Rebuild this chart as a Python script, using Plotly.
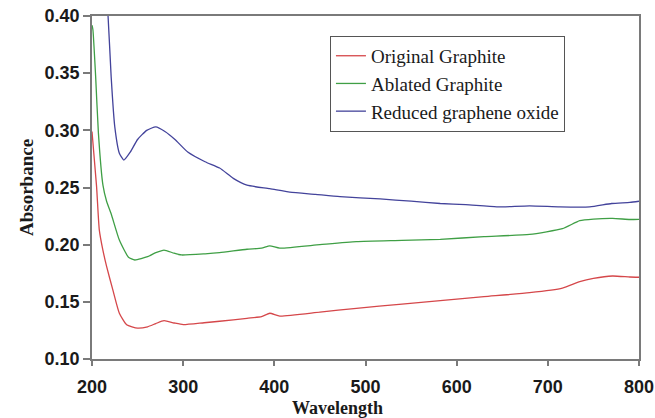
import plotly.graph_objects as go

# Wavelength (nm) and absorbance values
wl_red = [200, 205, 208, 212, 216, 223, 230, 238, 250, 261, 270, 279, 290, 300, 323, 340, 370, 386, 395, 406, 450, 490, 540, 582, 630, 680, 716, 735, 750, 771, 790, 800]
ab_red = [0.299, 0.251, 0.213, 0.195, 0.181, 0.160, 0.140, 0.130, 0.127, 0.1282, 0.131, 0.1335, 0.1315, 0.130, 0.1317, 0.133, 0.1356, 0.137, 0.140, 0.1375, 0.141, 0.1443, 0.148, 0.151, 0.1545, 0.158, 0.162, 0.1676, 0.1705, 0.1726, 0.1717, 0.1715]

wl_green = [200, 201, 204, 207, 212, 216, 221, 230, 240, 247, 261, 270, 279, 290, 298, 324, 340, 370, 386, 395, 406, 450, 490, 540, 582, 630, 680, 716, 735, 750, 771, 790, 800]
ab_green = [0.392, 0.388, 0.347, 0.298, 0.252, 0.238, 0.227, 0.204, 0.189, 0.1866, 0.1895, 0.193, 0.1953, 0.1925, 0.191, 0.192, 0.193, 0.196, 0.197, 0.199, 0.197, 0.200, 0.2026, 0.2037, 0.2047, 0.207, 0.209, 0.214, 0.221, 0.2224, 0.223, 0.222, 0.2222]

wl_blue = [200, 210, 217.6, 221, 225, 230, 235, 242, 250, 260, 270, 280, 291, 305, 324, 340, 355, 370, 395, 417, 445, 472, 516, 550, 582, 610, 644, 680, 713, 746, 770, 790, 800]
ab_blue = [0.60, 0.48, 0.40, 0.347, 0.303, 0.280, 0.274, 0.281, 0.292, 0.300, 0.303, 0.299, 0.292, 0.281, 0.2725, 0.267, 0.258, 0.252, 0.249, 0.246, 0.244, 0.242, 0.240, 0.238, 0.236, 0.235, 0.233, 0.234, 0.233, 0.233, 0.236, 0.237, 0.238]

names = ["Original Graphite", "Ablated Graphite", "Reduced graphene oxide"]
colors = ["#d5474a", "#3f9f45", "#43439b"]

fig = go.Figure()
for wl, ab, name, col in zip([wl_red, wl_green, wl_blue], [ab_red, ab_green, ab_blue], names, colors):
    fig.add_trace(go.Scatter(x=wl, y=ab, mode="lines", name=name,
                             line=dict(color=col, width=1.3, shape="spline", smoothing=0.5)))

axis_common = dict(showline=True, linecolor="#7a7a7a", linewidth=1.5, mirror=True,
                   ticks="outside", tickcolor="#7a7a7a", tickwidth=1.5,
                   showgrid=False, zeroline=False, automargin=False,
                   tickfont=dict(family="Liberation Sans, Arial", size=18, color="#1a1a1a", weight="bold"))

fig.update_layout(
    width=655, height=418,
    margin=dict(l=92, r=16, t=16, b=59),
    paper_bgcolor="white", plot_bgcolor="white",
    xaxis=dict(range=[200, 800], tickvals=[200, 300, 400, 500, 600, 700, 800],
               ticklen=5, ticklabelstandoff=6, **axis_common),
    yaxis=dict(range=[0.10, 0.40], tickvals=[0.10, 0.15, 0.20, 0.25, 0.30, 0.35, 0.40],
               tickformat=".2f", ticklen=7,
               title=dict(text="<b>Absorbance</b>", standoff=6,
                          font=dict(family="Liberation Serif, Times New Roman", size=19, color="#1a1a1a")),
               **axis_common),
    legend=dict(x=0.435, y=0.942, xanchor="left", yanchor="top",
                bgcolor="white", bordercolor="#555555", borderwidth=1,
                font=dict(family="Liberation Serif, Times New Roman", size=19, color="#1a1a1a"),
                tracegroupgap=0, itemwidth=30),
    showlegend=True,
)

fig.add_annotation(text="<b>Wavelength</b>", xref="paper", yref="paper",
                   x=(337 - 92) / 547, y=0, xanchor="center", yanchor="top", yshift=-37,
                   showarrow=False,
                   font=dict(family="Liberation Serif, Times New Roman", size=18, color="#1a1a1a"))

fig.write_html("out.html")
